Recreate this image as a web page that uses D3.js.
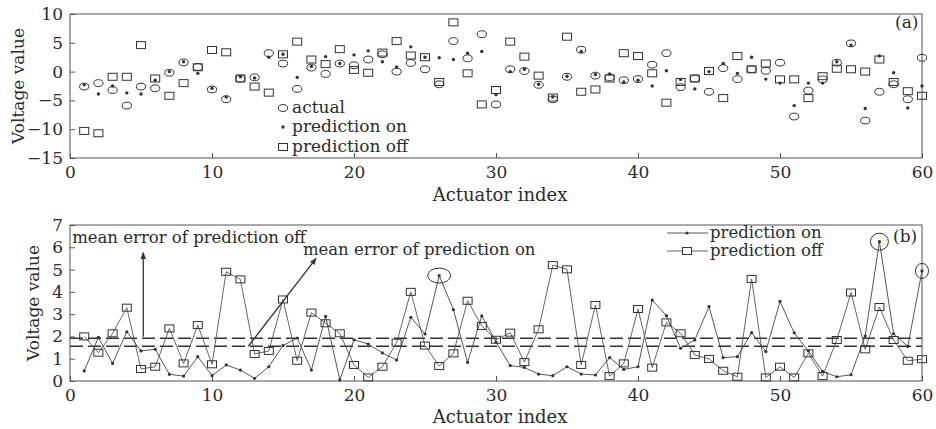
<!DOCTYPE html>
<html>
<head>
<meta charset="utf-8">
<script src="https://cdn.jsdelivr.net/npm/d3@7/dist/d3.min.js"></script>
<style>
  body { margin: 0; background: #fff; }
  svg text { font-family: "DejaVu Serif", serif; fill: #2b2b2b; }
</style>
</head>
<body>
<svg id="chart" width="936" height="429"></svg>
<script>
// actuator index 1..60
const actuators = d3.range(1, 61);

// panel (a): voltage values
const actual = [
  -2.6, -2.0, -3.2, -5.9, -2.6, -2.9, -0.2, 1.6, 0.8, -3.1,
  -4.8, -1.2, -1.0, 3.2, 1.4, -3.0, 0.7, -0.4, 1.4, 1.1,
  2.1, 3.0, 0.0, 1.5, 0.4, -2.2, 5.3, 2.3, 6.5, -5.7,
  0.4, 0.1, -2.3, -4.8, -0.9, 3.8, -0.7, -1.0, -1.5, -1.3,
  1.2, 3.2, -2.7, -1.2, -3.5, 0.6, -1.3, 0.4, 0.15, 1.55,
  -7.8, -3.3, -1.35, 1.55, 4.9, -8.5, -3.5, -2.2, -4.8, 2.4
];
const predOn = [
  -2.3, -3.9, -2.5, -3.7, -3.9, -1.5, 0.0, 1.7, -0.3, -2.9,
  -4.4, -0.9, -1.1, 2.5, 3.0, -1.0, 0.9, 2.6, 1.4, 2.9,
  3.6, 1.7, 0.8, 4.3, 2.5, 2.4, 2.1, 3.2, 3.5, -4.0,
  0.0, 0.4, -2.2, -4.4, -0.8, 3.5, -0.5, -0.4, -1.8, -1.5,
  -2.5, 0.15, -1.35, -3.0, 0.0, 1.4, -0.3, 2.5, -1.3, -2.0,
  -5.9, -2.0, -2.0, 1.7, 4.6, -6.4, 2.7, -0.2, -6.3, -2.5
];
const predOff = [
  -10.3, -10.7, -0.9, -0.9, 4.6, -1.2, -4.2, -2.0, 0.75, 3.75,
  3.35, -1.2, -2.6, -3.65, 3.0, 5.2, 2.1, 1.3, 3.9, 0.3,
  -0.2, 3.3, 5.3, 2.8, 2.5, -1.8, 8.55, -0.3, -5.7, -3.2,
  5.2, 2.6, -0.7, -4.5, 6.06, -3.5, -3.1, -1.2, 3.2, 2.7,
  -0.3, -5.4, -1.8, -1.2, 0.1, -4.6, 2.7, 0.4, 1.4, -1.35,
  -1.35, -4.6, -0.8, 0.5, 0.4, 0.0, 2.1, -1.8, -3.4, -4.2
];

// panel (b): voltage errors
const errOn = [
  0.45, 1.96, 0.79, 2.21, 1.35, 1.42, 0.3, 0.22, 1.09, 0.24,
  0.72, 0.49, 0.12, 0.64, 1.59, 1.93, 0.49, 2.9, 0.05, 1.85,
  1.66, 1.26, 0.94, 2.86, 2.11, 4.73, 3.2, 0.84, 2.92, 1.75,
  0.69, 0.61, 0.31, 0.24, 0.64, 0.31, 0.27, 1.05, 0.52, 0.64,
  3.63, 2.93, 1.47, 1.84, 3.34, 1.05, 1.09, 2.17, 1.32, 3.57,
  2.16, 1.35, 0.43, 0.19, 0.28, 2.02, 6.25, 2.12, 1.55, 4.94
];
const errOff = [
  2.0, 1.27, 2.14, 3.29, 0.54, 0.64, 2.36, 0.79, 2.51, 0.75,
  4.9, 4.56, 1.21, 1.35, 3.66, 0.91, 3.07, 2.59, 2.14, 0.72,
  0.16, 0.64, 1.72, 4.0, 1.59, 0.67, 1.24, 3.6, 2.47, 1.85,
  2.17, 0.85, 2.32, 5.2, 5.01, 0.72, 3.41, 0.22, 0.79, 3.23,
  0.6, 2.63, 2.14, 1.17, 0.99, 0.46, 0.19, 4.58, 0.16, 0.64,
  0.16, 1.24, 0.22, 1.84, 3.97, 1.42, 3.32, 1.84, 0.91, 0.98
];
const meanErrOff = 1.92;
const meanErrOn = 1.56;
const circled = [26, 57, 60];

const xTicks = [0, 10, 20, 30, 40, 50, 60];
const yTicksA = [-15, -10, -5, 0, 5, 10];
const yTicksB = [0, 1, 2, 3, 4, 5, 6, 7];

const svg = d3.select("#chart");
const ink = "#333";

const x = d3.scaleLinear().domain([0, 60]).range([70, 922]);
const yA = d3.scaleLinear().domain([-15, 10]).range([158, 14]);
const yB = d3.scaleLinear().domain([0, 7]).range([381, 225]);

svg.append("defs").append("marker")
  .attr("id", "arrow")
  .attr("viewBox", "0 0 10 10")
  .attr("refX", 9).attr("refY", 5)
  .attr("markerWidth", 7).attr("markerHeight", 9)
  .attr("markerUnits", "userSpaceOnUse")
  .attr("orient", "auto")
  .append("path").attr("d", "M0,1L10,5L0,9Z").attr("fill", ink);

function frame(y, ticks, ylabelX, xlabelY) {
  const g = svg.append("g");
  g.append("rect")
    .attr("x", x.range()[0]).attr("y", y.range()[1])
    .attr("width", x.range()[1] - x.range()[0])
    .attr("height", y.range()[0] - y.range()[1])
    .attr("fill", "none").attr("stroke", "#555").attr("stroke-width", 1);

  const ax = g.append("g")
    .attr("transform", `translate(0,${y.range()[0]})`)
    .call(d3.axisBottom(x).tickValues(xTicks).tickSize(-5).tickPadding(8));
  const ay = g.append("g")
    .attr("transform", `translate(${x.range()[0]},0)`)
    .call(d3.axisLeft(y).tickValues(ticks).tickFormat(d3.format("d")).tickSize(-5).tickPadding(7));
  [ax, ay].forEach(a => {
    a.select(".domain").remove();
    a.selectAll("line").attr("stroke", "#555");
    a.selectAll("text").attr("font-size", 17).attr("font-family", "DejaVu Serif").attr("fill", "#2b2b2b");
  });

  g.append("text")
    .attr("transform", `translate(${ylabelX},${(y.range()[0] + y.range()[1]) / 2}) rotate(-90)`)
    .attr("text-anchor", "middle").attr("dy", "0.35em")
    .attr("font-size", 17).text("Voltage value");
  g.append("text")
    .attr("x", 500).attr("y", xlabelY)
    .attr("text-anchor", "middle").attr("font-size", 18)
    .text("Actuator index");
  return g;
}

// ---------- panel (a) ----------
frame(yA, yTicksA, 18, 201);

const gA = svg.append("g");
gA.selectAll("ellipse.act").data(actuators).join("ellipse")
  .attr("cx", d => x(d)).attr("cy", (d, i) => yA(actual[i]))
  .attr("rx", 4.6).attr("ry", 3.4)
  .attr("fill", "none").attr("stroke", ink).attr("stroke-width", 1);
gA.selectAll("rect.off").data(actuators).join("rect")
  .attr("x", d => x(d) - 4.5).attr("y", (d, i) => yA(predOff[i]) - 3.5)
  .attr("width", 9).attr("height", 7)
  .attr("fill", "none").attr("stroke", ink).attr("stroke-width", 1);
gA.selectAll("circle.on").data(actuators).join("circle")
  .attr("cx", d => x(d)).attr("cy", (d, i) => yA(predOn[i]))
  .attr("r", 1.7).attr("fill", ink);

gA.append("text").attr("x", 895).attr("y", 28).attr("font-size", 17).text("(a)");

const legA = gA.append("g").attr("transform", "translate(283,0)");
legA.append("ellipse").attr("cx", 0).attr("cy", 108).attr("rx", 4.6).attr("ry", 3.4)
  .attr("fill", "none").attr("stroke", ink);
legA.append("circle").attr("cx", 0).attr("cy", 127).attr("r", 1.7).attr("fill", ink);
legA.append("rect").attr("x", -4.5).attr("y", 143.5).attr("width", 9).attr("height", 7)
  .attr("fill", "none").attr("stroke", ink);
[["actual", 108], ["prediction on", 127], ["prediction off", 147]].forEach(([t, yy]) => {
  legA.append("text").attr("x", 9).attr("y", yy + 5).attr("font-size", 17).text(t);
});

// ---------- panel (b) ----------
frame(yB, yTicksB, 33, 423);

const gB = svg.append("g");
const line = vals => d3.line().x(d => x(d)).y((d, i) => yB(vals[i]))(actuators);

[meanErrOff, meanErrOn].forEach(m => {
  gB.append("line")
    .attr("x1", x(0)).attr("x2", x(60))
    .attr("y1", yB(m)).attr("y2", yB(m))
    .attr("stroke", ink).attr("stroke-width", 1.6)
    .attr("stroke-dasharray", "13,5");
});

gB.append("path").attr("d", line(errOff))
  .attr("fill", "none").attr("stroke", "#555").attr("stroke-width", 0.9);
gB.append("path").attr("d", line(errOn))
  .attr("fill", "none").attr("stroke", "#444").attr("stroke-width", 0.9);

gB.selectAll("rect.off").data(actuators).join("rect")
  .attr("x", d => x(d) - 4.5).attr("y", (d, i) => yB(errOff[i]) - 3.5)
  .attr("width", 9).attr("height", 7)
  .attr("fill", "none").attr("stroke", ink).attr("stroke-width", 1);
gB.selectAll("circle.on").data(actuators).join("circle")
  .attr("cx", d => x(d)).attr("cy", (d, i) => yB(errOn[i]))
  .attr("r", 1.6).attr("fill", ink);

// circled peaks of prediction on
const ringSize = { 26: [11.5, 7.5], 57: [9, 8.5], 60: [6.5, 7.5] };
gB.selectAll("ellipse.ring").data(circled).join("ellipse")
  .attr("cx", d => x(d)).attr("cy", d => yB(errOn[d - 1]))
  .attr("rx", d => ringSize[d][0]).attr("ry", d => ringSize[d][1])
  .attr("fill", "none").attr("stroke", ink).attr("stroke-width", 1);

// annotations
gB.append("text").attr("x", x(0.15)).attr("y", 243).attr("font-size", 16.5)
  .text("mean error of prediction off");
gB.append("line")
  .attr("x1", x(5.16)).attr("y1", yB(meanErrOff + 0.07))
  .attr("x2", x(5.16)).attr("y2", yB(5.76))
  .attr("stroke", ink).attr("stroke-width", 1.3).attr("marker-end", "url(#arrow)");

gB.append("text").attr("x", x(16.4)).attr("y", 255).attr("font-size", 16.5)
  .text("mean error of prediction on");
gB.append("line")
  .attr("x1", x(12.56)).attr("y1", yB(meanErrOn))
  .attr("x2", x(17.33)).attr("y2", yB(5.5))
  .attr("stroke", ink).attr("stroke-width", 1.3).attr("marker-end", "url(#arrow)");

gB.append("text").attr("x", 893).attr("y", 242).attr("font-size", 17).text("(b)");

const legB = gB.append("g");
legB.append("line").attr("x1", 667).attr("x2", 708).attr("y1", 233).attr("y2", 233)
  .attr("stroke", "#444").attr("stroke-width", 0.9);
legB.append("circle").attr("cx", 687).attr("cy", 233).attr("r", 1.6).attr("fill", ink);
legB.append("line").attr("x1", 667).attr("x2", 708).attr("y1", 251).attr("y2", 251)
  .attr("stroke", "#555").attr("stroke-width", 0.9);
legB.append("rect").attr("x", 682.5).attr("y", 247.5).attr("width", 9).attr("height", 7)
  .attr("fill", "#fff").attr("stroke", ink);
legB.append("text").attr("x", 710).attr("y", 238).attr("font-size", 16.5).text("prediction on");
legB.append("text").attr("x", 710).attr("y", 256).attr("font-size", 16.5).text("prediction off");
</script>
</body>
</html>
